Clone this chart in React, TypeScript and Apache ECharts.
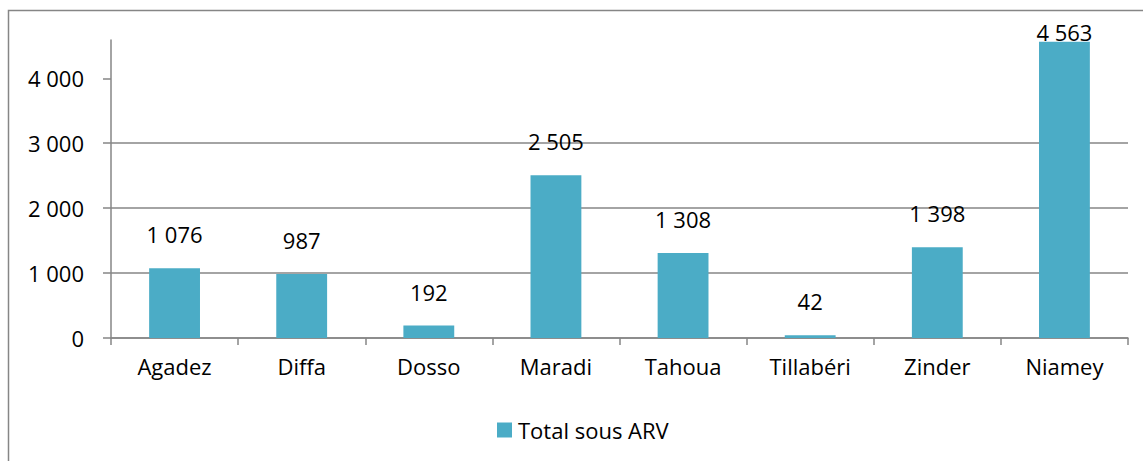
import React, { useEffect, useRef } from "react";
import * as echarts from "echarts";

const categories = ["Agadez", "Diffa", "Dosso", "Maradi", "Tahoua", "Tillabéri", "Zinder", "Niamey"];
const values = [1076, 987, 192, 2505, 1308, 42, 1398, 4563];
const yTicks = [0, 1000, 2000, 3000, 4000];
const seriesName = "Total sous ARV";

const FONT = "'Open Sans', sans-serif";
const fmt = (v: number) => String(v).replace(/\B(?=(\d{3})+(?!\d))/g, " ");

export default function App() {
  const ref = useRef<HTMLDivElement>(null);
  useEffect(() => {
    if (!ref.current) return;
    const chart = echarts.init(ref.current, null, { renderer: "svg" });
    chart.setOption({
      animation: false,
      backgroundColor: "#ffffff",
      textStyle: { fontFamily: FONT },
      graphic: [
        {
          type: "rect",
          shape: { x: 8.5, y: 10.5, width: 1200, height: 500 },
          style: { fill: "none", stroke: "#868686", lineWidth: 1.5 },
          silent: true,
        },
      ],
      grid: { left: 111, right: 15, top: 40, bottom: 123, containLabel: false },
      legend: {
        left: 492,
        top: 414,
        itemWidth: 15,
        itemHeight: 15,
        icon: "rect",
        textStyle: { fontSize: 22, color: "#000", fontFamily: FONT, padding: [0, 0, 0, 1] },
        data: [seriesName],
      },
      xAxis: {
        type: "category",
        data: categories,
        axisLine: { show: true, lineStyle: { color: "#868686", width: 1.5 } },
        axisTick: { show: true, length: 7, lineStyle: { color: "#868686", width: 1.5 } },
        axisLabel: { fontSize: 22, color: "#000", margin: 17, fontFamily: FONT },
      },
      yAxis: {
        type: "value",
        min: 0,
        max: 4590,
        interval: 1000,
        axisLine: { show: true, lineStyle: { color: "#868686", width: 1.5 } },
        axisTick: { show: true, length: 8, customValues: yTicks, lineStyle: { color: "#868686", width: 1.5 } },
        axisLabel: {
          fontSize: 22,
          color: "#000",
          margin: 27,
          fontFamily: FONT,
          customValues: yTicks,
          formatter: (v: number) => fmt(v),
        },
        splitLine: { show: true, showMaxLine: false, lineStyle: { color: "#868686", width: 1.5 } },
      },
      series: [
        {
          name: seriesName,
          type: "bar",
          barWidth: "40%",
          itemStyle: { color: "#4BACC6" },
          data: values.map((v, i) =>
            i === values.length - 1
              ? { value: v, label: { distance: -1 } }
              : { value: v }
          ),
          label: {
            show: true,
            position: "top",
            distance: 23,
            fontSize: 22,
            color: "#000",
            fontFamily: FONT,
            formatter: (p: any) => fmt(p.value),
          },
        },
      ],
    });
    return () => chart.dispose();
  }, []);
  return (
    <div
      ref={ref}
      style={{ position: "fixed", left: 0, top: 0, width: 1143, height: 461 }}
    />
  );
}
